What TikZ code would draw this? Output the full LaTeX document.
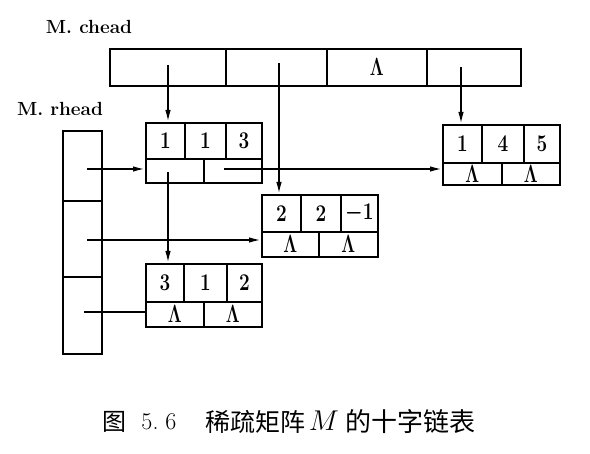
\documentclass[tikz,border=0pt]{standalone}
\usepackage{fontspec}
\usepackage{graphicx}
\newfontfamily\cjk{Noto Sans CJK SC}
\usetikzlibrary{arrows.meta}
\newcommand\dg[1]{\scalebox{0.95}[1.2]{\fontsize{20}{24}\selectfont\bfseries #1}}
\newcommand\lamsym{\scalebox{0.85}[1.2]{\fontsize{20.74}{22}\selectfont\boldmath$\Lambda$}}
\newcommand\lam{\raisebox{-3pt}{\lamsym}}
\begin{document}
\begin{tikzpicture}[x=1pt,y=-1pt,
  cell/.style={draw, line width=1.7pt, inner sep=0pt, anchor=north west},
  arr/.style={line width=1.7pt, -{Latex[length=12pt,width=5.5pt]}},
  lnk/.style={line width=1.7pt},
  lbl/.style={font=\fontsize{19}{20}\selectfont\bfseries, inner sep=0pt}]
\useasboundingbox (0,0) rectangle (590,454);
% labels
\node[lbl] (lc) at (89,27) {M. chead};
\node[lbl] (lr) at (60,109) {M. rhead};
% column heads
\node[cell, minimum width=116pt, minimum height=37pt] (c1) at (109,48) {};
\node[cell, minimum width=101pt, minimum height=37pt] (c2) at (225,48) {};
\node[cell, minimum width=100pt, minimum height=37pt] (c3) at (326,48) {\raisebox{-5pt}{\lamsym}};
\node[cell, minimum width=94pt, minimum height=37pt] (c4) at (426,48) {};
% row heads
\node[cell, minimum width=39pt, minimum height=70pt] (r1) at (62,130) {};
\node[cell, minimum width=39pt, minimum height=76pt] (r2) at (62,200) {};
\node[cell, minimum width=39pt, minimum height=77pt] (r3) at (62,276) {};
% node A (1,1,3)
\node[cell, minimum width=39pt, minimum height=36pt] (A1) at (145,122) {\dg{1}};
\node[cell, minimum width=41pt, minimum height=36pt] (A2) at (184,122) {\dg{1}};
\node[cell, minimum width=36pt, minimum height=36pt] (A3) at (225,122) {\dg{3}};
\node[cell, minimum width=58pt, minimum height=24pt] (Ab1) at (145,158) {};
\node[cell, minimum width=58pt, minimum height=24pt] (Ab2) at (203,158) {};
% node B (1,4,5)
\node[cell, minimum width=39pt, minimum height=38pt] (B1) at (442,124) {\dg{1}};
\node[cell, minimum width=42pt, minimum height=38pt] (B2) at (481,124) {\dg{4}};
\node[cell, minimum width=36pt, minimum height=38pt] (B3) at (523,124) {\dg{5}};
\node[cell, minimum width=59pt, minimum height=22pt] (Bb1) at (442,162) {\raisebox{-2pt}{\lamsym}};
\node[cell, minimum width=58pt, minimum height=22pt] (Bb2) at (501,162) {\raisebox{-2pt}{\lamsym}};
% node C (2,2,-1)
\node[cell, minimum width=39pt, minimum height=37pt] (C1) at (261,194) {\dg{2}};
\node[cell, minimum width=40pt, minimum height=37pt] (C2) at (300,194) {\dg{2}};
\node[cell, minimum width=37pt, minimum height=37pt] (C3) at (340,194) {\dg{{\boldmath$-$}1}};
\node[cell, minimum width=57pt, minimum height=25pt] (Cb1) at (261,231) {\lam};
\node[cell, minimum width=59pt, minimum height=25pt] (Cb2) at (318,231) {\lam};
% node D (3,1,2)
\node[cell, minimum width=38pt, minimum height=38pt] (D1) at (145,263) {\dg{3}};
\node[cell, minimum width=43pt, minimum height=38pt] (D2) at (183,263) {\dg{1}};
\node[cell, minimum width=35pt, minimum height=38pt] (D3) at (226,263) {\dg{2}};
\node[cell, minimum width=58pt, minimum height=25pt] (Db1) at (145,301) {\lam};
\node[cell, minimum width=58pt, minimum height=25pt] (Db2) at (203,301) {\lam};
% pointer origins
\coordinate (p1) at (168,65);
\coordinate (p2) at (279,63);
\coordinate (p3) at (461,67);
\coordinate (p4) at (168,172);
\coordinate (q1) at (87,169);
\coordinate (q2) at (87,240);
\coordinate (q3) at (84,312);
\coordinate (q4) at (224,169);
% connectors
\draw[arr] (p1) -- (p1 |- A1.north);
\draw[arr] (p2) -- (p2 |- C1.north);
\draw[arr] (p3) -- (p3 |- B1.north);
\draw[arr] (p4) -- (p4 |- D1.north);
\draw[arr] (q1) -- (q1 -| Ab1.west);
\draw[arr] (q4) -- (q4 -| Bb1.west);
\draw[arr] (q2) -- (q2 -| Cb1.west);
\draw[lnk] (q3) -- (q3 -| Db1.west);
% caption
\node[font=\cjk\fontsize{24}{26}\selectfont, inner sep=0pt] (t1) at (114,422) {图};
\node[font=\fontsize{24}{26}\selectfont, inner sep=0pt] (t2) at (159,422) {5.\kern7pt 6};
\node[font=\cjk\fontsize{25}{26}\selectfont, inner sep=0pt] (t3) at (255,422) {稀疏矩阵};
\node[font=\fontsize{24}{26}\selectfont, inner sep=0pt] (t4) at (324,421) {\scalebox{1.15}{$M$}};
\node[font=\cjk\fontsize{26}{26}\selectfont, inner sep=0pt] (t5) at (410,422) {的十字链表};
\end{tikzpicture}
\end{document}
